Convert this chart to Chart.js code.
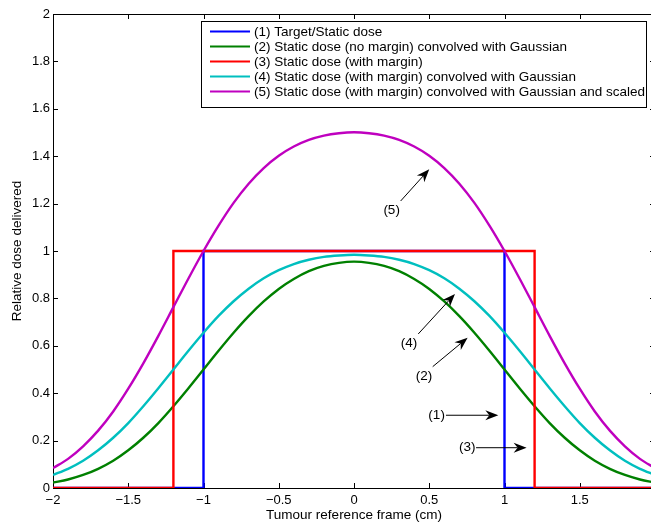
<!DOCTYPE html>
<html>
<head>
<meta charset="utf-8">
<script src="https://cdn.jsdelivr.net/npm/chart.js@4.4.0/dist/chart.umd.min.js"></script>
<style>
  html, body { margin: 0; padding: 0; overflow: hidden; background: #fff; }
  canvas { display: block; }
</style>
</head>
<body>
<canvas id="dose-chart" width="665" height="523"></canvas>
<script>
// ---- data ----
const xPositions = [-2.0, -1.9, -1.8, -1.7, -1.6, -1.5, -1.4, -1.3, -1.2, -1.1,
                    -1.0, -0.9, -0.8, -0.7, -0.6, -0.5, -0.4, -0.3, -0.2, -0.1,
                     0.0,  0.1,  0.2,  0.3,  0.4,  0.5,  0.6,  0.7,  0.8,  0.9,
                     1.0,  1.1,  1.2,  1.3,  1.4,  1.5,  1.6,  1.7,  1.8,  1.9, 2.0];

// (1) target / static dose, and (3) static dose with margin (step outlines)
const targetX = [-2, -1, -1, 1, 1, 2];
const targetY = [0, 0, 1, 1, 0, 0];
const marginX = [-2, -1.2, -1.2, 1.2, 1.2, 2];
const marginY = [0, 0, 1, 1, 0, 0];

// (2) no margin, convolved
const convolvedNoMargin = [0.023, 0.036, 0.055, 0.081, 0.115, 0.159, 0.212, 0.274, 0.345, 0.421,
                           0.500, 0.579, 0.655, 0.725, 0.787, 0.840, 0.882, 0.915, 0.937, 0.950,
                           0.955, 0.950, 0.937, 0.915, 0.882, 0.840, 0.787, 0.725, 0.655, 0.579,
                           0.500, 0.421, 0.345, 0.274, 0.212, 0.159, 0.115, 0.081, 0.055, 0.036, 0.023];
// (4) with margin, convolved
const convolvedMargin = [0.055, 0.081, 0.115, 0.159, 0.212, 0.274, 0.345, 0.421, 0.500, 0.579,
                         0.655, 0.726, 0.788, 0.841, 0.885, 0.919, 0.945, 0.963, 0.975, 0.981,
                         0.984, 0.981, 0.975, 0.963, 0.945, 0.919, 0.885, 0.841, 0.788, 0.726,
                         0.655, 0.579, 0.500, 0.421, 0.345, 0.274, 0.212, 0.159, 0.115, 0.081, 0.055];
// (5) with margin, convolved and scaled
const convolvedScaled = [0.084, 0.123, 0.176, 0.242, 0.323, 0.419, 0.526, 0.642, 0.763, 0.884,
                         1.000, 1.107, 1.203, 1.284, 1.350, 1.402, 1.441, 1.469, 1.487, 1.497,
                         1.501, 1.497, 1.487, 1.469, 1.441, 1.402, 1.350, 1.284, 1.203, 1.107,
                         1.000, 0.884, 0.763, 0.642, 0.526, 0.419, 0.323, 0.242, 0.176, 0.123, 0.084];

const seriesLabels = [
  '(1) Target/Static dose',
  '(2) Static dose (no margin) convolved with Gaussian',
  '(3) Static dose (with margin)',
  '(4) Static dose (with margin) convolved with Gaussian',
  '(5) Static dose (with margin) convolved with Gaussian and scaled'
];
const seriesColors = ['#0000ff', '#008000', '#ff0000', '#00bfbf', '#bf00bf'];

const xTickValues = [-2, -1.5, -1, -0.5, 0, 0.5, 1, 1.5, 2];
const yTickValues = [0, 0.2, 0.4, 0.6, 0.8, 1, 1.2, 1.4, 1.6, 1.8, 2];

// arrow annotations: label, label position, arrow tail, arrow tip (data units)
const arrowLabels = ['(5)', '(4)', '(2)', '(1)', '(3)'];
const arrowLabelAt = [[0.250, 1.170], [0.365, 0.610], [0.465, 0.470], [0.549, 0.305], [0.753, 0.170]];
const arrowTail = [[0.310, 1.211], [0.427, 0.650], [0.523, 0.512], [0.611, 0.307], [0.811, 0.170]];
const arrowTip = [[0.500, 1.345], [0.671, 0.819], [0.755, 0.634], [0.959, 0.307], [1.147, 0.170]];

const FONT = '"Liberation Sans", Arial, Helvetica, sans-serif';

function zip(xs, ys) { return xs.map((x, i) => ({ x: x, y: ys[i] })); }
function fmt(v) { return String(v).replace('-', '\u2212'); }

const seriesData = [
  zip(targetX, targetY),
  zip(xPositions, convolvedNoMargin),
  zip(marginX, marginY),
  zip(xPositions, convolvedMargin),
  zip(xPositions, convolvedScaled)
];

// frame with inward tick marks on all four sides (MATLAB style)
const framePlugin = {
  id: 'frame',
  beforeDatasetsDraw(chart) {
    const { ctx, chartArea: a, scales: { x, y } } = chart;
    ctx.save();
    ctx.strokeStyle = '#000';
    ctx.lineWidth = 1;
    ctx.strokeRect(Math.round(a.left) + 0.5, Math.round(a.top) + 0.5,
                   Math.round(a.right - a.left), Math.round(a.bottom - a.top));
    ctx.beginPath();
    xTickValues.forEach(v => {
      const px = Math.round(x.getPixelForValue(v)) + 0.5;
      ctx.moveTo(px, a.bottom); ctx.lineTo(px, a.bottom - 5);
      ctx.moveTo(px, a.top); ctx.lineTo(px, a.top + 5);
    });
    yTickValues.forEach(v => {
      const py = Math.round(y.getPixelForValue(v)) + 0.5;
      ctx.moveTo(a.left, py); ctx.lineTo(a.left + 5, py);
      ctx.moveTo(a.right, py); ctx.lineTo(a.right - 5, py);
    });
    ctx.stroke();
    ctx.restore();
  }
};

// boxed legend + arrow labels
const overlayPlugin = {
  id: 'overlay',
  afterDraw(chart) {
    const { ctx, scales: { x, y } } = chart;
    ctx.save();

    // legend box
    const bx = 201.5, by = 21.5, bw = 445, bh = 86;
    ctx.fillStyle = '#fff';
    ctx.fillRect(bx, by, bw, bh);
    ctx.strokeStyle = '#000';
    ctx.lineWidth = 1;
    ctx.strokeRect(bx, by, bw, bh);
    ctx.font = '13.5px ' + FONT;
    ctx.textBaseline = 'middle';
    chart.data.datasets.forEach((ds, i) => {
      const rowY = 31.5 + i * 15;
      ctx.strokeStyle = ds.borderColor;
      ctx.lineWidth = 2;
      ctx.beginPath();
      ctx.moveTo(210, rowY); ctx.lineTo(250, rowY);
      ctx.stroke();
      ctx.fillStyle = '#000';
      ctx.fillText(ds.label, 254, rowY + 0.5);
    });

    // arrows
    arrowLabels.forEach((txt, i) => {
      const lx = x.getPixelForValue(arrowLabelAt[i][0]);
      const ly = y.getPixelForValue(arrowLabelAt[i][1]);
      ctx.fillStyle = '#000';
      ctx.textAlign = 'center';
      ctx.textBaseline = 'middle';
      ctx.font = '13.5px ' + FONT;
      ctx.fillText(txt, lx, ly);

      const tx = x.getPixelForValue(arrowTail[i][0]);
      const ty = y.getPixelForValue(arrowTail[i][1]);
      const hx = x.getPixelForValue(arrowTip[i][0]);
      const hy = y.getPixelForValue(arrowTip[i][1]);
      const ang = Math.atan2(hy - ty, hx - tx);
      const len = 13, half = 5, notch = 4;
      const cos = Math.cos(ang), sin = Math.sin(ang);
      const bxp = hx - len * cos, byp = hy - len * sin;
      ctx.strokeStyle = '#000';
      ctx.lineWidth = 1;
      ctx.beginPath();
      ctx.moveTo(tx, ty);
      ctx.lineTo(hx - (len - notch) * cos, hy - (len - notch) * sin);
      ctx.stroke();
      ctx.beginPath();
      ctx.moveTo(hx, hy);
      ctx.lineTo(bxp - half * sin, byp + half * cos);
      ctx.lineTo(hx - (len - notch) * cos, hy - (len - notch) * sin);
      ctx.lineTo(bxp + half * sin, byp - half * cos);
      ctx.closePath();
      ctx.fill();
    });
    ctx.restore();
  }
};

new Chart(document.getElementById('dose-chart'), {
  type: 'line',
  data: {
    datasets: seriesData.map((pts, i) => ({
      label: seriesLabels[i],
      data: pts,
      borderColor: seriesColors[i],
      backgroundColor: seriesColors[i],
      borderWidth: 2.4,
      pointRadius: 0,
      fill: false,
      tension: (i === 0 || i === 2) ? 0 : 0.4,
      cubicInterpolationMode: (i === 0 || i === 2) ? 'default' : 'monotone',
      order: 5 - i
    }))
  },
  options: {
    responsive: false,
    animation: false,
    devicePixelRatio: 1,
    layout: { padding: { left: 0, top: 14, right: 10, bottom: 0 } },
    plugins: {
      legend: { display: false },
      tooltip: { enabled: false }
    },
    scales: {
      x: {
        type: 'linear',
        min: -2,
        max: 2,
        afterBuildTicks: s => { s.ticks = xTickValues.map(v => ({ value: v })); },
        afterFit: s => { s.height = 35; },
        grid: { display: false, drawTicks: false },
        border: { display: false },
        ticks: {
          color: '#000',
          padding: 5,
          maxRotation: 0,
          font: { family: FONT, size: 13 },
          callback: v => fmt(v)
        },
        title: {
          display: true,
          text: 'Tumour reference frame (cm)',
          color: '#000',
          font: { family: FONT, size: 13.5 },
          padding: { top: 0, bottom: 0 }
        }
      },
      y: {
        type: 'linear',
        min: 0,
        max: 2,
        afterBuildTicks: s => { s.ticks = yTickValues.map(v => ({ value: v })); },
        afterFit: s => { s.width = 53; },
        grid: { display: false, drawTicks: false },
        border: { display: false },
        ticks: {
          color: '#000',
          padding: 3,
          font: { family: FONT, size: 13 },
          callback: v => fmt(v)
        },
        title: {
          display: true,
          text: 'Relative dose delivered',
          color: '#000',
          font: { family: FONT, size: 13.5 },
          padding: { top: 9, bottom: 0 }
        }
      }
    }
  },
  plugins: [framePlugin, overlayPlugin]
});
</script>
</body>
</html>
